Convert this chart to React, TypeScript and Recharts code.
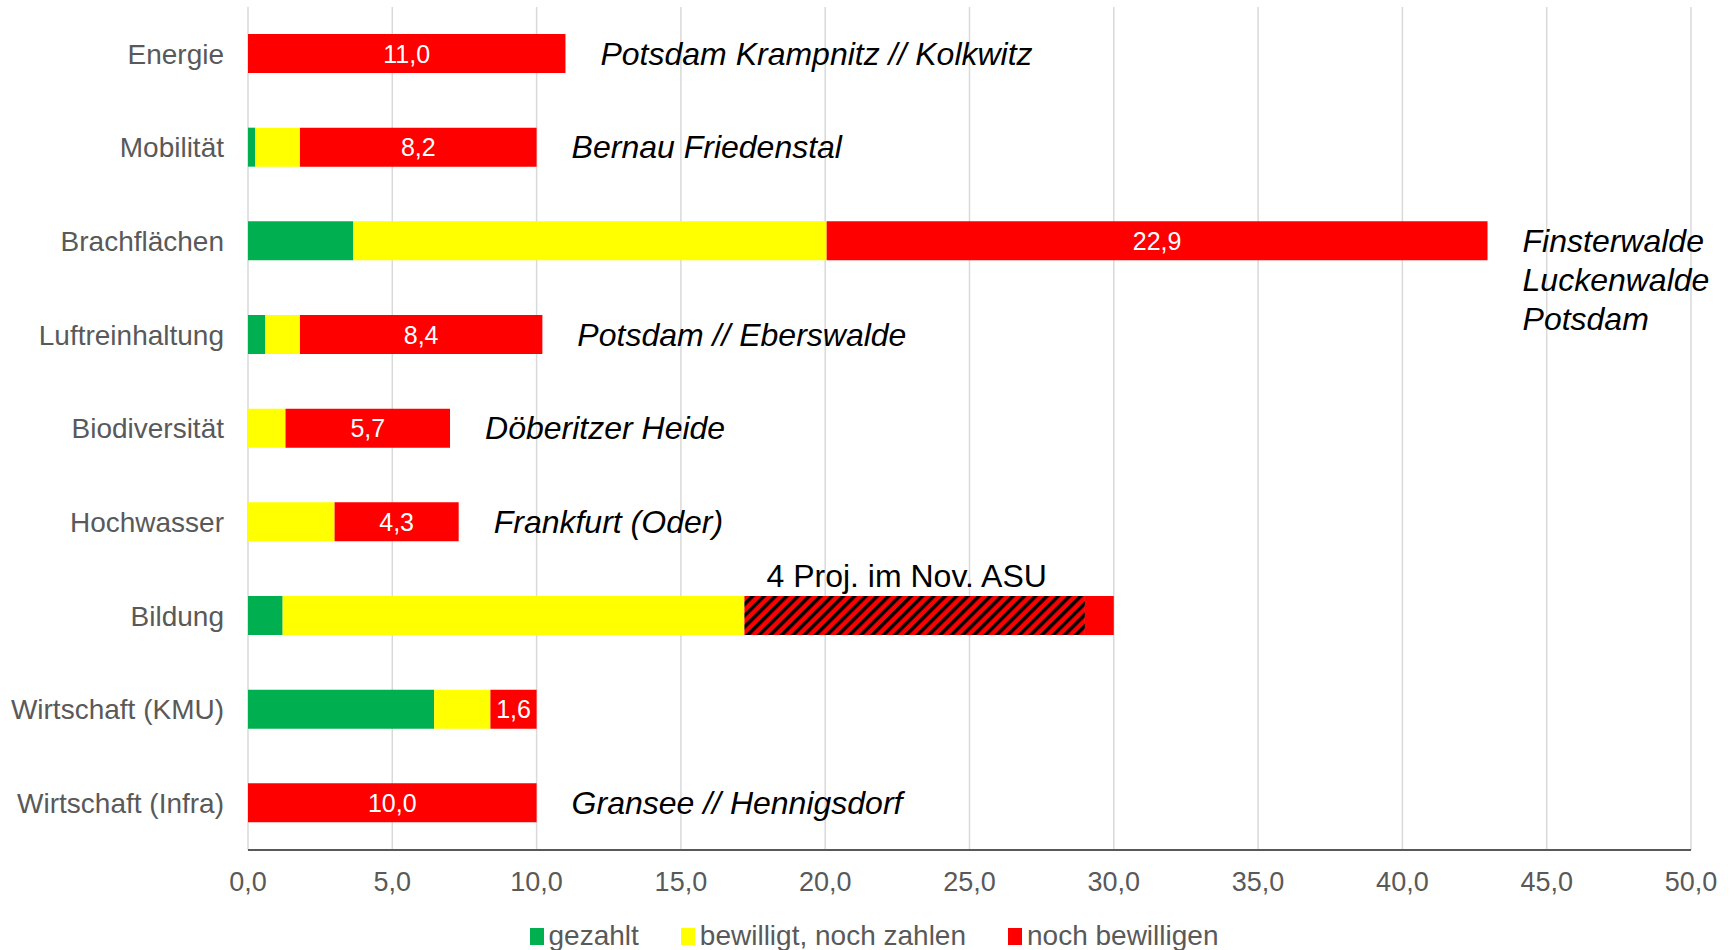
import React from "react";
import { BarChart, Bar, XAxis, YAxis, CartesianGrid, Legend } from "recharts";

const categories = [
  "Energie",
  "Mobilität",
  "Brachflächen",
  "Luftreinhaltung",
  "Biodiversität",
  "Hochwasser",
  "Bildung",
  "Wirtschaft (KMU)",
  "Wirtschaft (Infra)",
];
const gezahlt = [0, 0.25, 3.65, 0.6, 0, 0, 1.2, 6.45, 0];
const bewilligt = [0, 1.55, 16.4, 1.2, 1.3, 3.0, 16.0, 1.95, 0];
// hatched part of Bildung ("4 Proj. im Nov. ASU")
const imNovember = [0, 0, 0, 0, 0, 0, 11.8, 0, 0];
const nochBewilligen = [11.0, 8.2, 22.9, 8.4, 5.7, 4.3, 1.0, 1.6, 10.0];
const showValue = [true, true, true, true, true, true, false, true, true];
const notes = [
  ["Potsdam Krampnitz // Kolkwitz"],
  ["Bernau Friedenstal"],
  ["Finsterwalde", "Luckenwalde", "Potsdam"],
  ["Potsdam // Eberswalde"],
  ["Döberitzer Heide"],
  ["Frankfurt (Oder)"],
  [],
  [],
  ["Gransee // Hennigsdorf"],
];
const hatchNote = "4 Proj. im Nov. ASU";
const xTicks = [0, 5, 10, 15, 20, 25, 30, 35, 40, 45, 50];
const legendOrder = ["gezahlt", "bewilligt", "nochBewilligen"];

const GREEN = "#00B050";
const YELLOW = "#FFFF00";
const RED = "#FF0000";
const GREY = "#595959";
const FONT = '"Liberation Sans", Arial, sans-serif';

const data = categories.map((name, i) => ({
  name,
  gezahlt: gezahlt[i],
  bewilligt: bewilligt[i],
  imNovember: imNovember[i],
  nochBewilligen: nochBewilligen[i],
}));

const fmt = (v: number) => v.toFixed(1).replace(".", ",");

function box(props: any) {
  const vb = props.viewBox ?? props;
  return {
    x: Number(vb.x ?? props.x),
    y: Number(vb.y ?? props.y),
    width: Number(vb.width ?? props.width),
    height: Number(vb.height ?? props.height),
  };
}

function RedLabel(props: any) {
  const { x, y, width, height } = box(props);
  const i = props.index;
  const lines = notes[i] || [];
  const cy = y + height / 2;
  const perUnit = width / nochBewilligen[i];
  const hatchW = imNovember[i] * perUnit;
  return (
    <g>
      {showValue[i] && (
        <text
          x={x + width / 2}
          y={cy}
          textAnchor="middle"
          dominantBaseline="central"
          fill="#fff"
          fontSize={25}
          fontFamily={FONT}
        >
          {fmt(nochBewilligen[i])}
        </text>
      )}
      {hatchW > 0 && (
        <text
          x={x - hatchW / 2 - 8}
          y={y - 20}
          textAnchor="middle"
          dominantBaseline="central"
          fill="#000"
          fontSize={32}
          fontFamily={FONT}
        >
          {hatchNote}
        </text>
      )}
      {lines.map((line, k) => (
        <text
          key={k}
          x={x + width + 35}
          y={cy + k * 39}
          dominantBaseline="central"
          fill="#000"
          fontSize={32}
          fontStyle="italic"
          fontFamily={FONT}
        >
          {line}
        </text>
      ))}
    </g>
  );
}

function LegendContent(props: any) {
  const items = (props.payload || [])
    .filter((p: any) => legendOrder.includes(p.dataKey))
    .sort((a: any, b: any) => legendOrder.indexOf(a.dataKey) - legendOrder.indexOf(b.dataKey));
  return (
    <div
      style={{ display: "flex", justifyContent: "center", gap: 42, paddingLeft: 12, fontFamily: FONT }}
    >
      {items.map((p: any) => (
        <div key={p.dataKey} style={{ display: "flex", alignItems: "center" }}>
          <span style={{ width: 14, height: 17, background: p.color, marginRight: 5 }} />
          <span style={{ color: GREY, fontSize: 28 }}>{p.value}</span>
        </div>
      ))}
    </div>
  );
}

export default function App() {
  return (
    <div style={{ position: "absolute", left: 0, top: 0, background: "#fff" }}>
      <BarChart
        width={1736}
        height={950}
        data={data}
        layout="vertical"
        margin={{ top: 7, right: 45, bottom: 0, left: 0 }}
      >
        <defs>
          <pattern
            id="hatch"
            patternUnits="userSpaceOnUse"
            width={8}
            height={8}
            patternTransform="rotate(45)"
          >
            <rect width={8} height={8} fill={RED} />
            <rect width={3.5} height={8} fill="#000" />
          </pattern>
        </defs>
        <CartesianGrid horizontal={false} stroke="#d9d9d9" strokeWidth={1.5} />
        <XAxis
          type="number"
          domain={[0, 50]}
          ticks={xTicks}
          tickFormatter={fmt}
          height={100}
          tickLine={false}
          tickSize={0}
          tickMargin={22}
          axisLine={{ stroke: GREY, strokeWidth: 2 }}
          tick={{ fill: GREY, fontSize: 27, fontFamily: FONT }}
          interval={0}
        />
        <YAxis
          type="category"
          dataKey="name"
          width={248}
          tickLine={false}
          axisLine={false}
          tickSize={0}
          tickMargin={24}
          tick={{ fill: GREY, fontSize: 28, fontFamily: FONT }}
          interval={0}
        />
        <Legend
          layout="horizontal"
          verticalAlign="middle"
          align="center"
          wrapperStyle={{ top: 920, left: 0, width: 1736 }}
          content={LegendContent}
        />
        <Bar dataKey="gezahlt" name="gezahlt" stackId="a" fill={GREEN} barSize={39} isAnimationActive={false} />
        <Bar
          dataKey="bewilligt"
          name="bewilligt, noch zahlen"
          stackId="a"
          fill={YELLOW}
          barSize={39}
          isAnimationActive={false}
        />
        <Bar
          dataKey="imNovember"
          name="4 Proj. im Nov. ASU"
          stackId="a"
          fill="url(#hatch)"
          barSize={39}
          legendType="none"
          isAnimationActive={false}
        />
        <Bar
          dataKey="nochBewilligen"
          name="noch bewilligen"
          stackId="a"
          fill={RED}
          barSize={39}
          isAnimationActive={false}
          label={RedLabel}
        />
      </BarChart>
    </div>
  );
}
